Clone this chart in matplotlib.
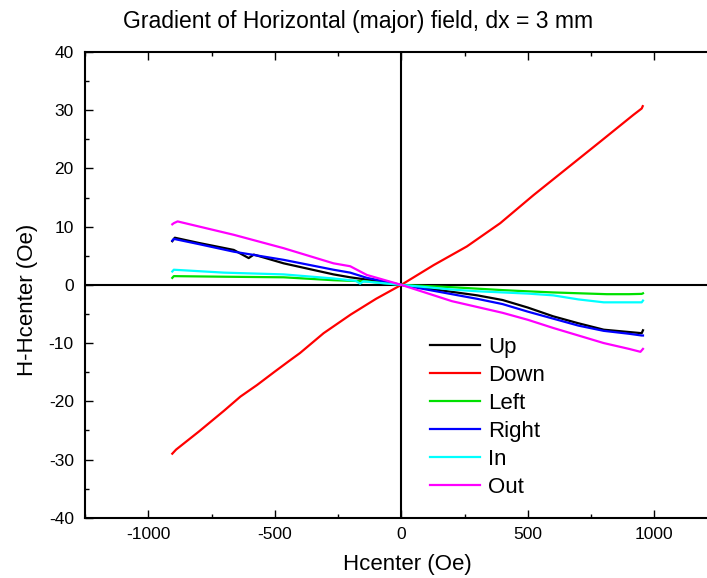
import numpy as np
import matplotlib
matplotlib.use("Agg")
import matplotlib.pyplot as plt
from matplotlib.ticker import MultipleLocator

plt.rcParams['font.family'] = ['Liberation Sans', 'DejaVu Sans']
plt.rcParams['axes.unicode_minus'] = False

# values (Oe)
x_down = [-905, -890, -800, -700, -636, -570, -500, -438, -400, -307, -200, -100, 0,
          128, 259, 391, 522, 654, 786, 917, 950, 954]
y_down = [-29.0, -28.3, -25.2, -21.6, -19.2, -17.2, -14.9, -12.9, -11.7, -8.3, -5.1, -2.4, 0,
          3.4, 6.6, 10.6, 15.4, 20.0, 24.6, 29.2, 30.3, 30.7]

x_up = [-905, -895, -800, -662, -603, -583, -465, -268, -202, -136, 0,
        200, 300, 400, 500, 600, 700, 800, 900, 950, 955]
y_up = [7.5, 8.1, 7.2, 6.0, 4.6, 5.2, 3.7, 1.8, 1.3, 0.9, 0,
        -1.2, -1.8, -2.6, -3.9, -5.4, -6.6, -7.7, -8.1, -8.3, -7.8]

x_left = [-905, -899, -700, -465, -268, -136, 0,
          200, 400, 470, 600, 812, 900, 950, 955]
y_left = [1.2, 1.5, 1.4, 1.3, 0.8, 0.6, 0,
          -0.4, -0.9, -1.05, -1.3, -1.6, -1.6, -1.55, -1.45]

x_right = [-905, -899, -800, -662, -465, -268, -202, -136, 0,
           200, 300, 400, 500, 600, 700, 800, 900, 950, 955]
y_right = [7.6, 7.9, 7.0, 5.7, 4.3, 2.6, 2.1, 1.2, 0,
           -1.6, -2.4, -3.3, -4.6, -5.8, -7.0, -7.9, -8.4, -8.7, -8.7]

x_in = [-905, -899, -700, -465, -268, -180, -163, -150, 0,
        100, 200, 300, 400, 500, 600, 700, 800, 900, 950, 955]
y_in = [2.3, 2.6, 2.1, 1.8, 1.1, 0.7, 0.2, 0.6, 0,
        -0.4, -0.8, -1.1, -1.3, -1.5, -1.8, -2.5, -3.0, -3.0, -3.0, -2.7]

x_out = [-905, -899, -884, -662, -465, -268, -202, -136, 0,
         100, 200, 300, 400, 500, 600, 700, 800, 900, 945, 955]
y_out = [10.4, 10.6, 10.9, 8.6, 6.3, 3.7, 3.2, 1.7, 0,
         -1.4, -2.8, -3.8, -4.8, -6.0, -7.4, -8.7, -10.0, -11.0, -11.5, -11.0]

series = [
    ("Up", x_up, y_up, "black"),
    ("Down", x_down, y_down, "#ff0000"),
    ("Left", x_left, y_left, "#00e000"),
    ("Right", x_right, y_right, "#0000ff"),
    ("In", x_in, y_in, "#00ffff"),
    ("Out", x_out, y_out, "#ff00ff"),
]

fig = plt.figure(figsize=(7.07, 5.78), dpi=100)
ax = fig.add_axes([0.1202, 0.1043, 0.8798, 0.8057])

ax.axhline(0, color="black", lw=1.5, zorder=1)
ax.axvline(0, color="black", lw=1.5, zorder=1)

for name, xs, ys, col in series:
    ax.plot(xs, ys, color=col, lw=1.6, label=name, zorder=3)

ax.set_xlim(-1250, 1208)
ax.set_ylim(-40, 40)
ax.xaxis.set_major_locator(MultipleLocator(500))
ax.xaxis.set_minor_locator(MultipleLocator(250))
ax.yaxis.set_major_locator(MultipleLocator(10))
ax.yaxis.set_minor_locator(MultipleLocator(5))

ax.spines['right'].set_visible(False)
for s in ['left', 'bottom', 'top']:
    ax.spines[s].set_linewidth(1.5)

ax.tick_params(which='both', direction='in', top=True, right=False, width=1)
ax.tick_params(which='major', length=6, labelsize=12.5)
ax.tick_params(which='minor', length=3)
ax.tick_params(axis='x', pad=7)
ax.tick_params(axis='y', pad=8)

ax.set_xlabel("Hcenter (Oe)", fontsize=16)
ax.xaxis.set_label_coords(0.5187, -0.077)
ax.set_ylabel("H-Hcenter (Oe)", fontsize=16)
ax.yaxis.set_label_coords(-0.075, 0.468)

fig.text(0.506, 0.962, "Gradient of Horizontal (major) field, dx = 3 mm",
         ha="center", va="center", fontsize=16.5)

ax.legend(loc="upper left", bbox_to_anchor=(0.5547, 0.389), frameon=False,
          fontsize=16, handlelength=2.25, handletextpad=0.36, labelspacing=0.32,
          borderpad=0, borderaxespad=0)

fig.savefig("out.png", dpi=100)
